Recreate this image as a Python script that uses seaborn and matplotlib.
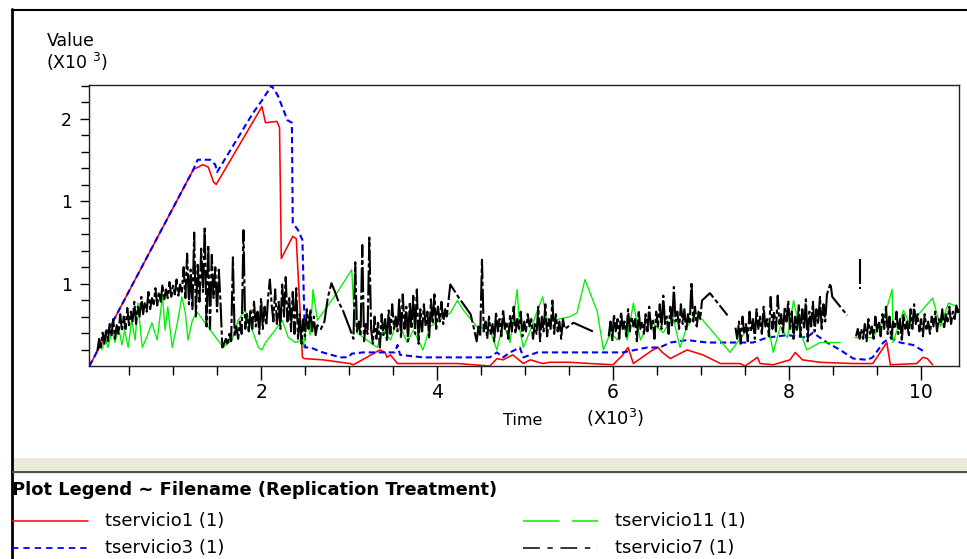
import numpy as np
import pandas as pd
import matplotlib
matplotlib.use("Agg")
import matplotlib.pyplot as plt
import seaborn as sns
from matplotlib.lines import Line2D
from matplotlib.patches import Rectangle
from matplotlib.ticker import FixedLocator, FixedFormatter

# ---------------- data (time in thousands, value in thousands) ----------------
red_pts = [(0.05,0.00),(1.23,1.59),(1.34,1.63),(1.40,1.61),(1.46,1.49),(1.49,1.47),
           (2.01,2.10),(2.05,1.97),(2.18,1.98),(2.21,1.93),(2.23,0.87),(2.36,1.05),(2.40,1.03),
           (2.47,0.07),(2.49,0.06),(2.70,0.05),(3.01,0.02),(3.05,0.01),(3.35,0.13),(3.41,0.11),
           (3.43,0.07),(3.47,0.09),(3.55,0.02),(4.23,0.02),(4.60,0.00),(4.68,0.06),(4.75,0.05),
           (4.86,0.09),(4.98,0.02),(5.06,0.05),(5.20,0.02),(5.28,0.03),(5.51,0.03),(5.74,0.02),
           (6.00,0.01),(6.11,0.09),(6.17,0.15),(6.23,0.02),(6.45,0.13),(6.51,0.15),(6.56,0.11),
           (6.65,0.06),(6.84,0.13),(7.02,0.09),(7.22,0.02),(7.44,0.02),(7.50,0.00),(7.64,0.07),
           (7.67,0.02),(7.82,0.01),(8.01,0.05),(8.07,0.11),(8.15,0.05),(8.35,0.03),(8.73,0.02),
           (8.95,0.02),(9.11,0.19),(9.15,0.01),(9.45,0.02),(9.52,0.07),(9.57,0.06),(9.63,0.01)]

blue_pts = [(0.05,0.00),(1.23,1.59),(1.28,1.67),(1.42,1.67),(1.48,1.63),(1.50,1.57),
            (1.91,2.05),(2.01,2.15),(2.12,2.27),(2.19,2.19),(2.30,1.99),(2.35,1.97),(2.36,1.16),
            (2.42,1.10),(2.47,1.02),(2.50,0.15),(2.56,0.15),(2.70,0.11),(2.90,0.07),(2.99,0.07),
            (3.03,0.10),(3.16,0.11),(3.24,0.11),(3.52,0.11),(3.55,0.17),(3.58,0.09),(3.84,0.07),
            (4.60,0.07),(4.68,0.11),(4.75,0.07),(4.83,0.11),(4.94,0.15),(4.98,0.07),(5.06,0.09),
            (5.14,0.11),(6.11,0.11),(6.39,0.15),(6.53,0.15),(6.65,0.19),(6.84,0.21),(7.07,0.19),
            (7.22,0.19),(7.41,0.19),(7.59,0.19),(7.75,0.23),(7.98,0.25),(8.20,0.23),(8.27,0.27),
            (8.43,0.19),(8.58,0.13),(8.73,0.06),(8.89,0.05),(8.95,0.07),(9.07,0.19),(9.15,0.23),
            (9.26,0.19),(9.41,0.17),(9.55,0.11)]

green_pts = [(0.19,0.13),(0.23,0.23),(0.26,0.15),(0.31,0.29),(0.34,0.19),(0.38,0.32),(0.42,0.17),
             (0.45,0.29),(0.49,0.15),(0.53,0.37),(0.57,0.21),(0.60,0.51),(0.65,0.15),(0.70,0.23),
             (0.76,0.35),(0.82,0.21),(0.88,0.57),(0.91,0.29),(0.94,0.48),(0.99,0.15),(1.05,0.35),
             (1.10,0.56),(1.14,0.43),(1.17,0.21),(1.22,0.37),(1.27,0.44),(1.57,0.15),(1.67,0.21),
             (1.74,0.37),(1.82,0.45),(1.90,0.29),(1.97,0.15),(2.01,0.13),(2.05,0.19),(2.16,0.29),
             (2.24,0.37),(2.31,0.23),(2.39,0.19),(2.47,0.21),(2.48,0.15),(2.52,0.37),(2.56,0.25),
             (2.59,0.62),(2.64,0.37),(2.70,0.43),(2.86,0.59),(3.03,0.78),(3.05,0.51),(3.09,0.27),
             (3.20,0.21),(3.32,0.15),(3.39,0.29),(3.47,0.21),(3.55,0.37),(3.66,0.19),(3.73,0.29),
             (3.84,0.13),(3.92,0.32),(4.03,0.37),(4.15,0.43),(4.23,0.53),(4.30,0.45),(4.45,0.32),
             (4.60,0.29),(4.68,0.13),(4.75,0.35),(4.83,0.19),(4.91,0.62),(4.94,0.29),(4.98,0.15),
             (5.06,0.29),(5.14,0.45),(5.20,0.56),(5.25,0.35),(5.32,0.37),(5.51,0.40),(5.59,0.43),
             (5.68,0.70),(5.82,0.44),(5.89,0.13),(5.97,0.27),(6.05,0.21),(6.11,0.37),(6.16,0.21),
             (6.23,0.51),(6.31,0.21),(6.42,0.37),(6.57,0.27),(6.68,0.40),(6.76,0.15),(6.84,0.32),
             (6.95,0.43),(7.02,0.37),(7.33,0.11),(7.41,0.19),(7.52,0.29),(7.64,0.35),(7.75,0.37),
             (7.82,0.11),(7.90,0.32),(7.98,0.23),(8.05,0.53),(8.13,0.27),(8.20,0.13),(8.35,0.19),
             (8.58,0.19),None,
             (8.75,0.23),(8.95,0.23),(9.07,0.37),(9.17,0.62),(9.18,0.19),(9.30,0.45),(9.38,0.32),
             (9.45,0.40),(9.63,0.55),(9.72,0.32),(9.81,0.51),(9.91,0.48)]

black_pts = [
    (0.14,0.12),(0.16,0.22),(0.18,0.15),(0.20,0.27),(0.22,0.18),(0.24,0.30),(0.26,0.20),(0.28,0.34),(0.30,0.24),(0.32,0.38),
    (0.34,0.22),(0.36,0.33),(0.38,0.26),(0.40,0.42),(0.42,0.28),(0.44,0.40),(0.46,0.30),(0.48,0.47),(0.50,0.33),(0.52,0.44),
    (0.54,0.36),(0.56,0.52),(0.58,0.34),(0.60,0.48),(0.62,0.40),(0.64,0.56),(0.66,0.42),(0.68,0.52),(0.70,0.44),(0.72,0.60),
    (0.74,0.46),(0.76,0.55),(0.78,0.50),(0.80,0.63),(0.82,0.49),(0.84,0.60),(0.86,0.52),(0.88,0.66),(0.90,0.54),(0.92,0.62),
    (0.94,0.55),(0.96,0.68),(0.98,0.56),(1.00,0.65),(1.02,0.58),(1.04,0.70),(1.06,0.57),(1.08,0.66),(1.10,0.60),
    (1.12,0.80),(1.14,0.55),(1.16,0.91),(1.18,0.50),(1.20,0.78),(1.22,0.46),(1.24,1.08),(1.26,0.40),(1.28,0.82),(1.30,0.52),
    (1.32,0.95),(1.34,0.60),(1.36,1.13),(1.38,0.32),(1.40,0.98),(1.42,0.30),(1.44,0.90),(1.46,0.55),(1.48,0.80),(1.50,0.44),
    (1.52,0.78),(1.54,0.50),(1.56,0.15),(1.58,0.18),(1.60,0.22),(1.62,0.17),(1.64,0.26),(1.66,0.20),(1.68,0.88),(1.70,0.24),
    (1.72,0.32),(1.74,0.22),(1.76,0.36),(1.78,0.26),(1.80,1.10),(1.82,0.30),(1.84,0.42),(1.86,0.28),(1.88,0.46),(1.90,0.30),
    (1.92,0.52),(1.94,0.32),(1.96,0.44),(1.98,0.26),(2.00,0.55),(2.02,0.30),(2.04,0.48),(2.06,0.33),(2.08,0.56),(2.10,0.70),
    (2.12,0.50),(2.14,0.36),(2.16,0.62),(2.18,0.34),(2.20,0.52),(2.22,0.30),(2.24,0.66),(2.26,0.40),(2.28,0.72),(2.30,0.36),
    (2.32,0.55),(2.34,0.28),(2.36,0.60),(2.38,0.26),(2.40,0.63),(2.42,0.22),(2.44,0.42),(2.46,0.18),(2.48,0.38),(2.50,0.24),
    (2.52,0.46),(2.54,0.30),(2.56,0.46),(2.58,0.28),(2.60,0.40),(2.62,0.25),(2.64,0.33),
    (2.68,0.30),(2.72,0.36),(2.76,0.56),(2.80,0.67),(2.84,0.60),(2.88,0.52),(2.93,0.45),(3.00,0.32),(3.05,0.22),
    (3.07,0.84),(3.09,0.28),(3.11,0.36),(3.13,0.24),(3.15,0.98),(3.17,0.20),(3.19,0.34),(3.21,0.26),(3.23,1.04),(3.25,0.30),
    (3.27,0.18),(3.29,0.40),(3.31,0.22),(3.33,0.35),(3.35,0.15),(3.37,0.42),(3.39,0.25),(3.41,0.38),(3.43,0.20),(3.45,0.45),
    (3.47,0.26),(3.49,0.50),(3.51,0.30),(3.53,0.40),(3.55,0.28),(3.57,0.55),(3.59,0.22),(3.61,0.58),(3.63,0.30),(3.65,0.48),
    (3.67,0.20),(3.69,0.52),(3.71,0.30),(3.73,0.58),(3.75,0.26),(3.77,0.62),(3.79,0.18),(3.81,0.46),(3.83,0.28),(3.85,0.50),
    (3.87,0.32),(3.89,0.44),(3.91,0.22),(3.93,0.54),(3.95,0.34),(3.97,0.58),(3.99,0.30),(4.01,0.48),(4.03,0.36),(4.05,0.52),
    (4.07,0.34),(4.09,0.46),(4.11,0.40),(4.15,0.66),(4.25,0.55),(4.38,0.42),
    (4.42,0.30),(4.45,0.20),(4.47,0.32),(4.49,0.24),(4.51,0.86),(4.53,0.28),(4.55,0.36),(4.57,0.22),(4.59,0.40),(4.61,0.26),
    (4.63,0.34),(4.65,0.20),(4.67,0.44),(4.69,0.28),(4.71,0.38),(4.73,0.24),(4.75,0.46),(4.77,0.30),(4.79,0.36),(4.81,0.22),
    (4.83,0.42),(4.85,0.28),(4.87,0.48),(4.89,0.26),(4.91,0.38),(4.93,0.30),(4.95,0.44),(4.97,0.24),(4.99,0.36),(5.01,0.28),
    (5.03,0.42),(5.05,0.32),(5.07,0.38),(5.09,0.22),(5.11,0.34),(5.13,0.26),(5.15,0.48),(5.17,0.20),(5.19,0.40),(5.21,0.28),
    (5.23,0.50),(5.25,0.24),(5.27,0.38),(5.29,0.30),(5.31,0.53),(5.33,0.26),(5.35,0.42),(5.37,0.28),(5.39,0.36),(5.41,0.22),
    (5.43,0.38),(5.45,0.30),(5.55,0.35),(5.77,0.28),None,
    (5.95,0.24),(5.97,0.36),(5.99,0.20),(6.01,0.42),(6.03,0.28),(6.05,0.38),(6.07,0.22),(6.09,0.44),(6.11,0.30),(6.13,0.36),
    (6.15,0.24),(6.17,0.46),(6.19,0.28),(6.21,0.40),(6.23,0.32),(6.25,0.38),(6.27,0.20),(6.29,0.45),(6.31,0.30),(6.33,0.36),
    (6.35,0.26),(6.37,0.42),(6.39,0.28),(6.41,0.48),(6.43,0.30),(6.45,0.38),(6.47,0.22),(6.49,0.44),(6.51,0.32),(6.53,0.50),
    (6.55,0.30),(6.57,0.57),(6.59,0.34),(6.61,0.40),(6.63,0.26),(6.65,0.48),(6.67,0.32),(6.69,0.64),(6.71,0.36),(6.73,0.44),
    (6.75,0.30),(6.77,0.50),(6.79,0.34),(6.81,0.46),(6.83,0.28),(6.85,0.42),(6.87,0.34),(6.89,0.68),(6.91,0.36),(6.93,0.48),
    (6.95,0.32),(6.97,0.44),(6.99,0.38),(7.01,0.53),(7.10,0.59),(7.30,0.41),None,
    (7.39,0.31),(7.41,0.22),(7.43,0.36),(7.45,0.18),(7.47,0.40),(7.49,0.26),(7.51,0.34),(7.53,0.20),(7.55,0.44),(7.57,0.28),
    (7.59,0.38),(7.61,0.22),(7.63,0.46),(7.65,0.30),(7.67,0.40),(7.69,0.26),(7.71,0.48),(7.73,0.32),(7.75,0.38),(7.77,0.24),
    (7.79,0.56),(7.81,0.30),(7.83,0.44),(7.85,0.28),(7.87,0.57),(7.89,0.34),(7.91,0.42),(7.93,0.26),(7.95,0.48),(7.97,0.36),
    (7.99,0.53),(8.01,0.30),(8.03,0.44),(8.05,0.22),(8.07,0.40),(8.09,0.28),(8.11,0.50),(8.13,0.24),(8.15,0.46),(8.17,0.30),
    (8.19,0.54),(8.21,0.20),(8.23,0.44),(8.25,0.32),(8.27,0.52),(8.29,0.28),(8.31,0.46),(8.33,0.34),(8.35,0.56),(8.37,0.30),
    (8.39,0.50),(8.41,0.36),(8.43,0.58),(8.47,0.67),(8.49,0.56),(8.66,0.41),None,
    (8.81,0.87),(8.81,0.62),None,
    (8.76,0.24),(8.78,0.30),(8.80,0.22),(8.82,0.30),(8.84,0.22),(8.86,0.34),(8.88,0.20),(8.90,0.38),(8.92,0.26),(8.94,0.32),
    (8.96,0.22),(8.98,0.40),(9.00,0.28),(9.02,0.36),(9.04,0.24),(9.06,0.42),(9.08,0.30),(9.10,0.48),(9.12,0.26),(9.14,0.40),
    (9.16,0.22),(9.18,0.36),(9.20,0.30),(9.22,0.44),(9.24,0.26),(9.26,0.38),(9.28,0.20),(9.30,0.42),(9.32,0.30),(9.34,0.36),
    (9.36,0.24),(9.38,0.46),(9.40,0.30),(9.42,0.50),(9.44,0.34),(9.46,0.42),(9.48,0.28),(9.50,0.38),(9.52,0.24),(9.54,0.42),
    (9.56,0.30),(9.58,0.36),(9.60,0.26),(9.62,0.40),(9.64,0.32),(9.66,0.44),(9.68,0.28),(9.70,0.38),(9.72,0.34),(9.74,0.46),
    (9.76,0.30),(9.78,0.42),(9.80,0.36),(9.82,0.48),(9.84,0.34),(9.86,0.44),(9.88,0.38),(9.90,0.49),(9.92,0.42),(9.94,0.47)]

series_names = ["tservicio1 (1)", "tservicio3 (1)", "tservicio11 (1)", "tservicio7 (1)"]

x_tick_pos = [2, 4, 6, 8, 9.5]
x_tick_labels = ["2", "4", "6", "8", "10"]
y_tick_pos = [2/3, 4/3, 2]
y_tick_labels = ["1", "1", "2"]

# ---------------- figure ----------------
sns.set_theme(style="white")
plt.rcParams["font.family"] = ["DejaVu Sans"]
plt.rcParams["mathtext.default"] = "regular"
plt.rcParams["text.color"] = "black"
plt.rcParams["xtick.color"] = "black"
plt.rcParams["ytick.color"] = "black"

W, H = 967, 559
fig = plt.figure(figsize=(W / 100, H / 100), dpi=100)
fig.patch.set_facecolor("white")

def fx(px):
    return px / W

def fy(py):
    return 1 - py / H

ax = fig.add_axes([fx(89), fy(366), fx(959) - fx(89), fy(85) - fy(366)])
ax.set_facecolor("white")


def to_frame(pts):
    rows, seg = [], 0
    for p in pts:
        if p is None:
            seg += 1
            continue
        rows.append((p[0], p[1], seg))
    return pd.DataFrame(rows, columns=["time", "value", "seg"])


styles = [
    (red_pts, "#FF0000", 1.15, "-", 3),
    (blue_pts, "#0000FF", 1.5, (0, (3.0, 1.8)), 4),
    (green_pts, "#00F000", 0.95, "-", 5),
    (black_pts, "#000000", 1.5, (0, (12, 1.4, 2, 1.4)), 6),
]
for pts, col, lw, ls, z in styles:
    df = to_frame(pts)
    sns.lineplot(data=df, x="time", y="value", units="seg", estimator=None, sort=False,
                 color=col, linewidth=lw, linestyle=ls, ax=ax, zorder=z, legend=False)

ax.set_xlim(0.045, 9.93)
ax.set_ylim(0, 2.275)
ax.set_xlabel("")
ax.set_ylabel("")

ax.xaxis.set_major_locator(FixedLocator(x_tick_pos))
ax.xaxis.set_major_formatter(FixedFormatter(x_tick_labels))
ax.xaxis.set_minor_locator(FixedLocator([0.5, 1, 1.5, 2.5, 3, 3.5, 4.5, 5, 5.5, 6.5, 7, 7.5, 8.5, 9]))
ax.yaxis.set_major_locator(FixedLocator(y_tick_pos))
ax.yaxis.set_major_formatter(FixedFormatter(y_tick_labels))
ax.yaxis.set_minor_locator(FixedLocator([k * 2 / 15 for k in range(1, 18) if k % 5]))

ax.tick_params(axis="x", which="major", direction="out", length=10, width=1, color="black",
               labelsize=13.5, pad=2, labelcolor="black", bottom=True)
ax.tick_params(axis="x", which="minor", direction="out", length=6.5, width=1, color="black", bottom=True)
ax.tick_params(axis="y", which="major", direction="out", length=6.5, width=1, color="black",
               labelsize=12.5, pad=6, labelcolor="black", left=True)
ax.tick_params(axis="y", which="minor", direction="out", length=5.5, width=1, color="black", left=True)
for s in ax.spines.values():
    s.set_visible(True)
    s.set_color("#202020")
    s.set_linewidth(1.0)

# axis annotations
fig.text(fx(47), fy(32), "Value", fontsize=12.5, va="top", ha="left", color="black")
fig.text(fx(46), fy(51), "(X10 $^{3}$)", fontsize=12.5, va="top", ha="left", color="black")
fig.text(fx(503), fy(425), "Time", fontsize=11.5, va="baseline", ha="left", color="black")
fig.text(fx(586), fy(425), "(X10$^{3}$)", fontsize=13, va="baseline", ha="left", color="black")

# window frame
fig.add_artist(Line2D([fx(12), fx(12)], [0, fy(9)], color="black", lw=2.0))
fig.add_artist(Line2D([fx(12), 1], [fy(9.5), fy(9.5)], color="black", lw=1.5))
fig.add_artist(Rectangle((fx(13), fy(470)), 1 - fx(13), fy(458) - fy(470),
                         transform=fig.transFigure, facecolor="#ECE9D8", edgecolor="none"))
fig.add_artist(Line2D([fx(13), 1], [fy(472), fy(472)], color="#505050", lw=1.6))

# legend area
fig.text(fx(12), fy(490), "Plot Legend ~ Filename (Replication Treatment)", fontsize=12.9,
         fontweight="bold", va="center", ha="left", color="black")
leg_specs = [
    (series_names[0], "#FF0000", "-", 12, 88, 105, 521, 1.1),
    (series_names[1], "#0000FF", (0, (3.5, 2.8)), 12, 88, 105, 548, 1.3),
    (series_names[2], "#00F000", (0, (24, 8)), 523, 598, 615, 521, 1.1),
    (series_names[3], "#000000", (0, (11, 5, 3.5, 5)), 523, 598, 615, 548, 1.1),
]
for name, col, ls, x0, x1, tx, y, lw in leg_specs:
    fig.add_artist(Line2D([fx(x0), fx(x1)], [fy(y), fy(y)], color=col, linestyle=ls, lw=lw))
    fig.text(fx(tx), fy(y), name, fontsize=13, va="center", ha="left", color="black")

fig.savefig("out.png", dpi=100, facecolor="white")
